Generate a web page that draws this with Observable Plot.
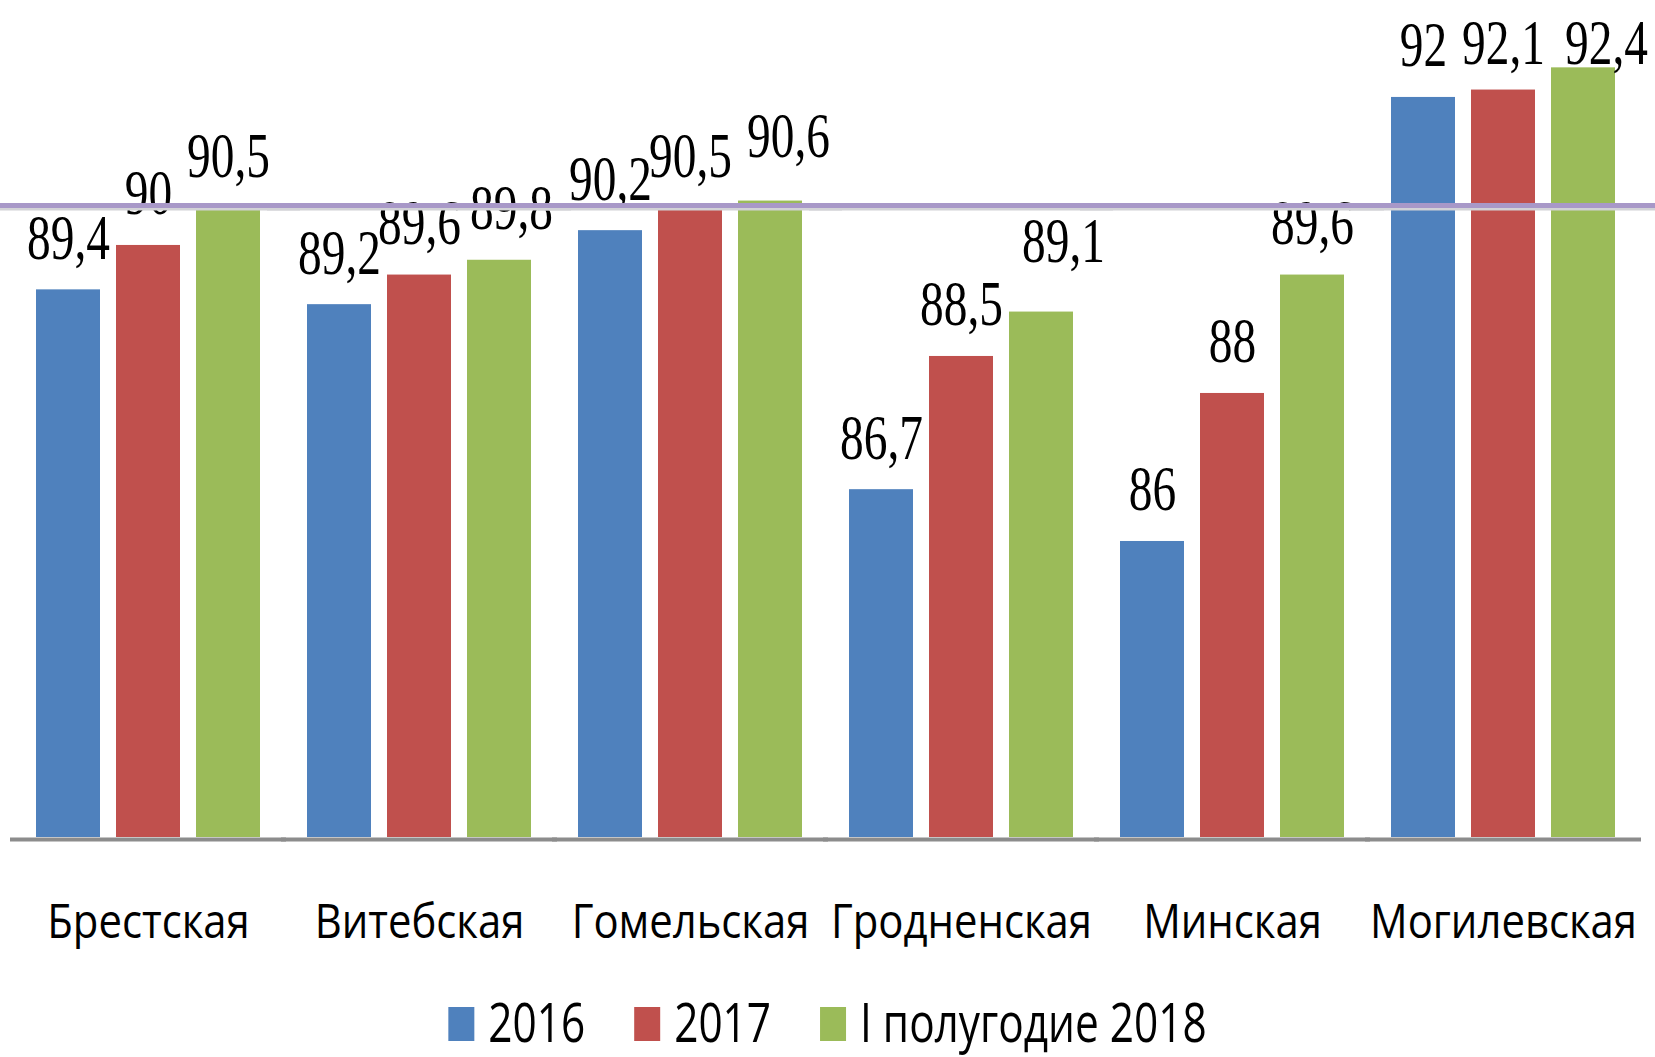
<!DOCTYPE html>
<html><head><meta charset="utf-8">
<script src="https://cdn.jsdelivr.net/npm/d3@7"></script>
<script src="https://cdn.jsdelivr.net/npm/@observablehq/plot@0.6"></script>
<style>
html,body{margin:0;padding:0;background:#fff;overflow:hidden;}
#chart svg,#legend svg{display:block;}
</style></head><body>
<div id="chart"></div>
<div id="legend"></div>
<script>
const regions = ["Брестская","Витебская","Гомельская","Гродненская","Минская","Могилевская"];
const seriesNames = ["2016","2017","I полугодие 2018"];
const values2016 = [89.4, 89.2, 90.2, 86.7, 86, 92];
const values2017 = [90, 89.6, 90.5, 88.5, 88, 92.1];
const values2018H1 = [90.5, 89.8, 90.6, 89.1, 89.6, 92.4];
const seriesColors = ["#4f81bd","#c0504d","#9bbb59"];
const referenceLevel = [90.54];
const yDomain = [82, 93.31];
const labelCeiling = 92.03; // labels near the top are kept inside the chart area, as in the original

// hand-moved data labels of the original (pixel nudges)
const labelNudges = [
  {region: "Витебская", series: "I полугодие 2018", dx: 12, dy: 0},
  {region: "Гомельская", series: "I полугодие 2018", dx: 18, dy: -13},
  {region: "Гродненская", series: "I полугодие 2018", dx: 22, dy: -19},
  {region: "Могилевская", series: "I полугодие 2018", dx: 23, dy: 0}
];

const seriesValues = [values2016, values2017, values2018H1];
const rows = [];
regions.forEach((r, i) => seriesValues.forEach((arr, j) => rows.push({region: r, series: seriesNames[j], value: arr[i]})));
const fmt = v => String(v).replace(".", ",");
const nudgeOf = d => labelNudges.find(n => n.region === d.region && n.series === d.series);

const labelOptions = {fx: "region", x: "series", y: d => Math.min(d.value, labelCeiling), text: d => fmt(d.value),
  lineAnchor: "bottom", fontSize: 64, fontFamily: "Liberation Serif", fill: "black"};

const chart = Plot.plot({
  width: 1655, height: 985,
  marginTop: 0, marginLeft: 0, marginRight: 5, marginBottom: 148,
  fx: {domain: regions, paddingInner: 0.174, paddingOuter: 0.125, label: null},
  x: {domain: seriesNames, paddingInner: 0.2, paddingOuter: 0, axis: null},
  y: {domain: yDomain, axis: null},
  color: {domain: seriesNames, range: seriesColors},
  style: {fontFamily: "Liberation Serif", background: "#fff", overflow: "visible"},
  marks: [
    Plot.barY(rows, {fx: "region", x: "series", y1: yDomain[0], y2: "value", fill: "series"}),
    Plot.text(rows.filter(d => !nudgeOf(d)), {...labelOptions, dy: -31}),
    ...labelNudges.map(n => Plot.text(rows.filter(d => nudgeOf(d) === n), {...labelOptions, dx: n.dx, dy: -31 + n.dy})),
    Plot.ruleY([yDomain[0]], {stroke: "#8c8c8c", strokeWidth: 4, dy: 2, insetLeft: -26, insetRight: -26}),
    Plot.ruleY(referenceLevel, {stroke: "#d2d2d6", strokeWidth: 4, dy: 3, insetLeft: -40, insetRight: -40}),
    Plot.ruleY(referenceLevel, {stroke: "#a898c8", strokeWidth: 5, insetLeft: -40, insetRight: -40}),
    Plot.axisFx({anchor: "bottom", tickSize: 0, tickPadding: 67, fontSize: 47, fontFamily: "Open Sans", label: null, fill: "black"})
  ]
});
document.getElementById("chart").append(chart);

function squeeze(root, selector, s) {
  root.querySelectorAll(selector).forEach(t => {
    const tr = t.getAttribute("transform") || "";
    const x = t.getAttribute("x"), y = t.getAttribute("y");
    if (x != null) {
      const yy = y || 0;
      t.setAttribute("transform", `${tr} translate(${x},${yy}) scale(${s},1) translate(${-x},${-yy})`);
    } else {
      t.setAttribute("transform", `${tr} scale(${s},1)`);
    }
  });
}
squeeze(chart, 'g[aria-label="text"] text', 0.74);
squeeze(chart, 'g[aria-label="fx-axis tick label"] text', 0.89);

// legend
const legendScale = 0.77;
const lg = d3.select("#legend").append("svg").attr("width", 1655).attr("height", 72);
const items = seriesNames.map((name, i) => ({name, color: seriesColors[i]}));
const g = lg.append("g");
let xpos = 0;
items.forEach((it, i) => {
  g.append("rect").attr("x", xpos).attr("y", 22).attr("width", 26).attr("height", 34).attr("fill", it.color);
  xpos += 26 + 14;
  const t = g.append("text").attr("transform", `translate(${xpos},57) scale(${legendScale},1)`)
    .attr("font-family", "Open Sans").attr("font-size", 55).attr("fill", "black").text(it.name);
  xpos += t.node().getComputedTextLength() * legendScale;
  if (i < items.length - 1) xpos += 49;
});
g.attr("transform", `translate(${(1655 - xpos) / 2},0)`);
</script>
</body></html>
